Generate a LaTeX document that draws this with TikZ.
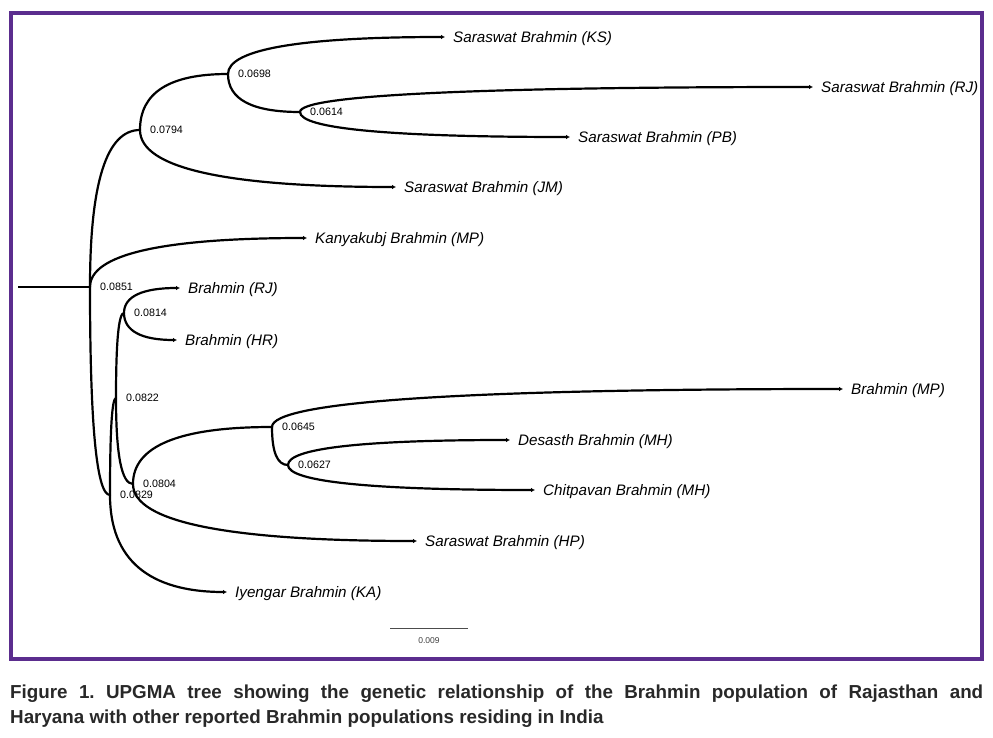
\documentclass[tikz,border=0pt]{standalone}
\usepackage{fontspec}
\setmainfont{Liberation Sans}
\usetikzlibrary{positioning,arrows.meta,calc}
\definecolor{framepurple}{RGB}{91,45,142}
\definecolor{captiongray}{RGB}{40,40,40}
\tikzset{
  branch/.style={line width=2.2pt, line cap=round,
    to path={.. controls ($(\tikztostart)!2/3!(\tikztostart |- \tikztotarget)$)
      and ($(\tikztotarget)!2/3!(\tikztostart |- \tikztotarget)$) .. (\tikztotarget) \tikztonodes}},
  tipbranch/.style={branch, -{Latex[length=4pt,width=4.5pt]}},
  taxon/.style={inner sep=0pt, yshift=-1.5pt, font=\fontsize{15.2}{18}\selectfont\itshape},
  support/.style={inner sep=0pt, font=\fontsize{10.7}{12}\selectfont},
  scalelab/.style={inner sep=0pt, text=black!75, font=\fontsize{8.5}{10}\selectfont},
  caption/.style={inner sep=0pt, anchor=base west, text=captiongray,
    font=\fontsize{18.8}{25}\selectfont\bfseries},
}

\begin{document}
\begin{tikzpicture}[x=1pt,y=-1pt]
\useasboundingbox (0,0) rectangle (993,738);
\draw[framepurple, line width=4pt] (11,13) rectangle (982,659);

% internal nodes
\coordinate (root) at (18,287);
\coordinate (n0851) at (90,287);
\coordinate (n0794) at (140,130);
\coordinate (n0698) at (228,74);
\coordinate (n0614) at (300,112);
\coordinate (n0829) at (110,495);
\coordinate (n0822) at (116,398);
\coordinate (n0814) at (124,313);
\coordinate (n0804) at (133,484);
\coordinate (n0645) at (272,427);
\coordinate (n0627) at (288,465);

% tips
\coordinate (tKS) at (445,37);
\coordinate (tRJs) at (813,87);
\coordinate (tPB) at (570,137);
\coordinate (tJM) at (396,187);
\coordinate (tKM) at (307,238);
\coordinate (tRJ) at (180,288);
\coordinate (tHR) at (177,340);
\coordinate (tMP) at (843,389);
\coordinate (tMHd) at (510,440);
\coordinate (tMHc) at (535,490);
\coordinate (tHP) at (417,541);
\coordinate (tKA) at (227,592);

\node[taxon, right=8pt of tKS] (KS) {Saraswat Brahmin (KS)};
\node[taxon, right=8pt of tRJs] (RJs) {Saraswat Brahmin (RJ)};
\node[taxon, right=8pt of tPB] (PB) {Saraswat Brahmin (PB)};
\node[taxon, right=8pt of tJM] (JM) {Saraswat Brahmin (JM)};
\node[taxon, right=8pt of tKM] (KM) {Kanyakubj Brahmin (MP)};
\node[taxon, right=8pt of tRJ] (RJ) {Brahmin (RJ)};
\node[taxon, right=8pt of tHR] (HR) {Brahmin (HR)};
\node[taxon, right=8pt of tMP] (MP) {Brahmin (MP)};
\node[taxon, right=8pt of tMHd] (MHd) {Desasth Brahmin (MH)};
\node[taxon, right=8pt of tMHc] (MHc) {Chitpavan Brahmin (MH)};
\node[taxon, right=8pt of tHP] (HP) {Saraswat Brahmin (HP)};
\node[taxon, right=8pt of tKA] (KA) {Iyengar Brahmin (KA)};

% branches
\draw[line width=2.2pt] (root) -- (n0851);
\foreach \a/\b in {n0851/n0794, n0851/n0829, n0794/n0698, n0698/n0614,
    n0829/n0822, n0822/n0814, n0822/n0804, n0804/n0645, n0645/n0627}
  \draw[branch] (\a) to (\b);
\foreach \a/\b in {n0851/tKM, n0794/tJM, n0698/tKS, n0614/tRJs, n0614/tPB,
    n0829/tKA, n0814/tRJ, n0814/tHR, n0804/tHP, n0645/tMP, n0627/tMHd, n0627/tMHc}
  \draw[tipbranch] (\a) to (\b);

% node heights
\foreach \n in {0851,0794,0698,0614,0829,0822,0814,0804,0645,0627}
  \node[support, right=10pt of n\n] (l\n) {0.\n};

% scale bar
\coordinate (sbl) at (390,628);
\coordinate (sbr) at (468,628);
\draw[line width=0.8pt, black!70] (sbl) -- (sbr) node[scalelab, midway, below=9pt] (sblab) {0.009};

\node[caption] (cap) at (10,698) {\parbox[t]{973pt}{\frenchspacing Figure 1. UPGMA tree showing the genetic relationship of the Brahmin population of Rajasthan and\linebreak Haryana with other reported Brahmin populations residing in India}};

\end{tikzpicture}
\end{document}
